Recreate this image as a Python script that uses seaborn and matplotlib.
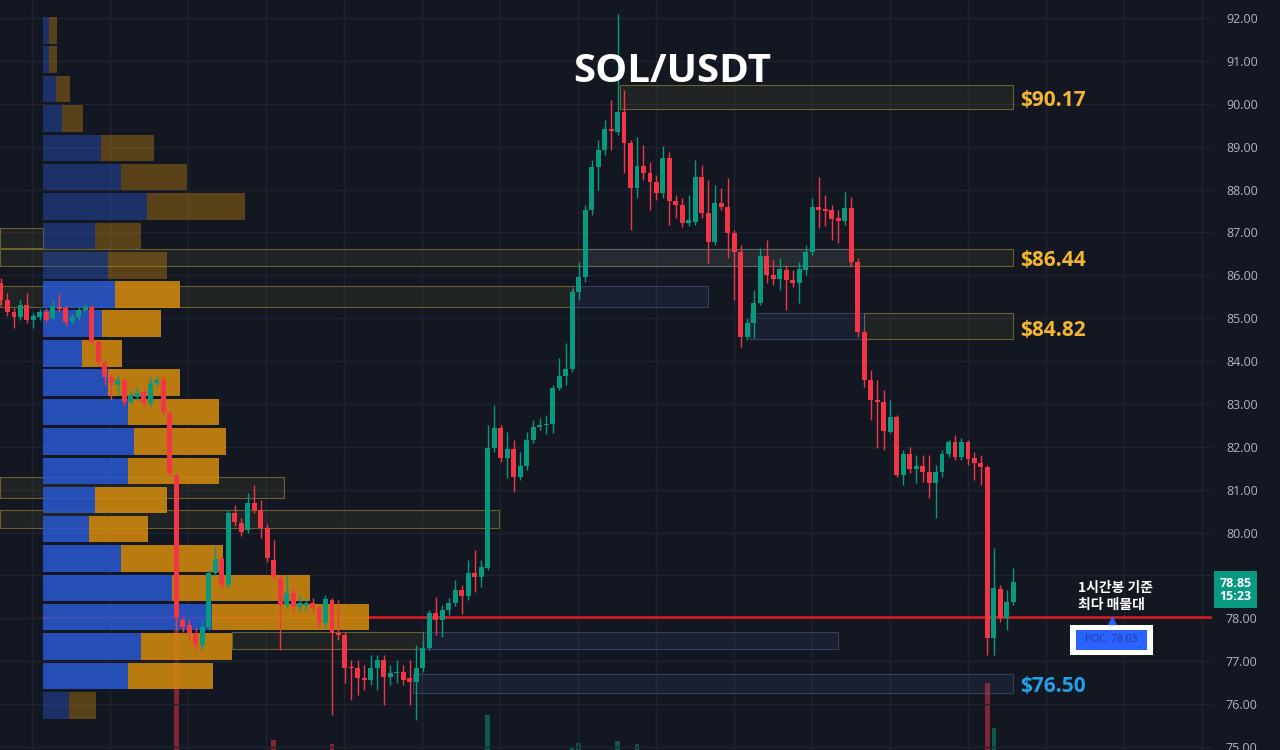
import numpy as np
import matplotlib
matplotlib.use("Agg")
import matplotlib.pyplot as plt
import matplotlib.transforms as mtransforms
from matplotlib.patches import Rectangle
import seaborn as sns

# ---------------- data ----------------
opens = [85.82, 85.42, 85.14, 85.03, 85.31, 84.96, 85.03, 85.14, 85.00, 85.26,
         85.24, 84.94, 85.03, 85.19, 85.26, 84.45, 83.96, 83.63, 83.44, 83.56,
         83.05, 83.16, 83.28, 83.03, 83.49, 83.56, 82.79, 81.34, 77.96, 77.85,
         77.66, 77.38, 77.80, 79.05, 79.38, 78.78, 80.46, 80.22, 80.06, 80.69,
         80.53, 80.11, 79.36, 78.94, 78.31, 78.59, 78.26, 78.29, 78.36, 78.24,
         77.89, 78.43, 77.66, 77.61, 76.87, 76.84, 76.61, 76.56, 76.84, 77.03,
         76.63, 76.73, 76.75, 76.61, 76.52, 76.84, 77.31, 78.12, 77.96, 78.20,
         78.36, 78.66, 78.52, 79.05, 78.96, 79.17, 81.97, 82.44, 81.74, 81.95,
         81.30, 81.55, 82.16, 82.46, 82.51, 82.53, 83.37, 83.65, 83.82, 85.61,
         85.96, 87.52, 88.53, 88.92, 89.41, 89.34, 89.81, 89.09, 88.04, 88.55,
         88.39, 88.18, 87.92, 88.74, 87.73, 87.64, 87.22, 87.24, 88.29, 87.45,
         86.78, 87.69, 87.59, 86.99, 86.54, 84.56, 84.89, 85.35, 86.45, 86.01,
         85.91, 86.12, 85.89, 85.82, 86.12, 86.54, 87.59, 87.55, 87.52, 87.34,
         87.27, 87.57, 86.31, 84.68, 83.56, 83.09, 83.05, 82.35, 82.70, 81.34,
         81.83, 81.48, 81.55, 81.41, 81.16, 81.41, 81.83, 82.11, 81.76, 82.11,
         81.74, 81.62, 81.53, 77.54, 78.69, 78.01, 78.38]
closes = [85.42, 85.14, 85.03, 85.31, 84.96, 85.05, 85.14, 84.96, 85.28, 85.21,
          84.91, 85.03, 85.19, 85.26, 84.45, 83.98, 83.63, 83.49, 83.56, 83.05,
          83.21, 83.26, 83.03, 83.49, 83.56, 82.81, 81.39, 78.01, 77.80, 77.66,
          77.38, 77.80, 79.05, 79.38, 78.78, 80.46, 80.25, 80.01, 80.69, 80.53,
          80.11, 79.41, 78.96, 78.31, 78.59, 78.26, 78.36, 78.36, 78.24, 77.89,
          78.45, 77.66, 77.61, 76.84, 76.84, 76.61, 76.56, 76.84, 77.03, 76.63,
          76.73, 76.75, 76.56, 76.52, 76.84, 77.31, 78.12, 77.96, 78.20, 78.36,
          78.66, 78.52, 79.05, 78.96, 79.19, 81.97, 82.44, 81.74, 81.95, 81.30,
          81.55, 82.16, 82.46, 82.51, 82.53, 83.37, 83.65, 83.82, 85.61, 85.96,
          87.52, 88.53, 88.92, 89.41, 89.37, 89.81, 89.09, 88.04, 88.55, 88.39,
          88.18, 87.92, 88.74, 87.73, 87.64, 87.22, 87.29, 88.29, 87.45, 86.78,
          87.69, 87.59, 86.99, 86.54, 84.56, 84.89, 85.35, 86.45, 86.01, 85.91,
          86.15, 85.89, 85.82, 86.15, 86.54, 87.59, 87.52, 87.50, 87.31, 87.27,
          87.57, 86.31, 84.68, 83.56, 83.09, 83.05, 82.37, 82.70, 81.34, 81.83,
          81.48, 81.55, 81.41, 81.16, 81.41, 81.83, 82.11, 81.76, 82.11, 81.72,
          81.62, 81.53, 77.54, 78.71, 78.01, 78.38, 78.85]
highs = [85.94, 85.59, 85.24, 85.42, 85.59, 85.12, 85.21, 85.24, 85.42, 85.59,
         85.31, 85.10, 85.26, 85.33, 85.31, 84.49, 84.03, 83.70, 83.65, 83.61,
         83.33, 83.40, 83.37, 83.65, 83.65, 83.65, 82.84, 81.39, 78.03, 77.96,
         77.77, 77.96, 79.12, 79.66, 79.45, 80.53, 80.64, 80.34, 80.92, 81.11,
         80.76, 80.20, 79.83, 79.01, 79.01, 78.71, 78.55, 78.47, 78.47, 78.31,
         78.55, 78.47, 78.43, 77.68, 77.03, 77.03, 76.91, 77.15, 77.15, 77.15,
         76.91, 77.03, 76.91, 77.03, 77.38, 77.50, 78.20, 78.50, 78.31, 78.47,
         78.89, 78.78, 79.36, 79.59, 79.36, 82.51, 82.98, 82.51, 82.35, 82.16,
         81.88, 82.35, 82.63, 82.67, 82.74, 83.44, 84.07, 84.42, 85.68, 86.31,
         87.64, 88.69, 89.15, 89.62, 90.09, 92.09, 90.32, 89.15, 89.23, 89.04,
         88.64, 88.34, 89.02, 88.88, 87.87, 87.80, 87.87, 88.69, 88.57, 88.22,
         88.11, 88.04, 88.27, 87.06, 86.71, 85.00, 85.66, 86.64, 86.82, 86.36,
         86.40, 86.24, 86.12, 86.31, 86.71, 87.80, 88.29, 87.87, 87.64, 87.52,
         87.94, 87.83, 86.40, 84.72, 83.79, 83.56, 83.33, 83.09, 82.74, 81.93,
         81.99, 81.81, 81.81, 81.81, 81.58, 81.93, 82.16, 82.28, 82.21, 82.16,
         81.88, 81.81, 81.58, 79.64, 78.78, 78.66, 79.17]
lows = [85.31, 85.05, 84.77, 84.96, 84.89, 84.77, 84.96, 84.91, 84.96, 85.14,
        84.82, 84.87, 84.96, 85.14, 84.38, 83.89, 83.44, 83.09, 83.21, 82.98,
        82.98, 83.09, 82.95, 82.95, 83.42, 82.74, 81.32, 77.73, 77.68, 77.50,
        77.26, 77.26, 77.73, 78.98, 78.71, 78.71, 80.15, 79.92, 79.99, 80.46,
        79.87, 79.31, 78.89, 77.26, 78.24, 78.15, 78.15, 78.20, 78.15, 77.77,
        77.77, 75.75, 77.50, 76.49, 76.10, 76.21, 76.33, 76.45, 76.33, 75.98,
        76.45, 76.49, 76.45, 75.98, 75.63, 76.75, 77.26, 77.61, 77.57, 78.08,
        78.29, 78.10, 78.43, 78.61, 78.73, 79.12, 81.88, 81.65, 81.27, 80.95,
        81.23, 81.46, 82.09, 82.39, 82.30, 82.32, 83.33, 83.44, 83.75, 85.42,
        85.84, 87.41, 87.99, 88.81, 88.92, 89.27, 88.39, 87.06, 87.80, 88.22,
        87.52, 87.76, 87.80, 87.17, 87.34, 87.13, 87.15, 87.17, 87.34, 86.29,
        86.71, 87.52, 86.40, 85.42, 84.33, 84.49, 84.54, 85.31, 85.82, 85.77,
        85.66, 85.19, 85.73, 85.35, 86.01, 86.47, 87.10, 87.15, 86.82, 86.75,
        87.17, 86.19, 84.56, 83.40, 82.63, 81.97, 81.93, 82.32, 81.30, 81.11,
        81.39, 81.16, 81.18, 80.81, 80.34, 81.30, 81.76, 81.69, 81.69, 81.58,
        81.23, 81.11, 77.15, 77.15, 77.92, 77.73, 78.31]

# visible volume spikes (candle index -> volume)
vol_idx = [27, 42, 51, 75, 88, 89, 95, 98, 152, 153]
vol_vals = [560, 320, 312, 370, 306, 314, 318, 312, 434, 344]

# volume profile (1h based): bin centre price, buy (blue) and sell (orange) volume
prof_price = [91.71, 91.03, 90.34, 89.66, 88.97, 88.29, 87.60, 86.92, 86.23, 85.55,
              84.87, 84.18, 83.50, 82.81, 82.13, 81.44, 80.76, 80.08, 79.39, 78.71,
              78.03, 77.34, 76.66, 75.97]
prof_buy = [6, 6, 13, 19, 58, 78, 104, 52, 65, 72, 59, 39, 65, 85, 91, 85, 52, 46,
            78, 129, 169, 98, 85, 26]
prof_sell = [8, 8, 14, 21, 53, 66, 98, 46, 59, 65, 59, 40, 72, 91, 92, 91, 72, 59,
             102, 138, 157, 91, 85, 27]
value_area = [False] * 9 + [True] * 14 + [False]
poc_price = 78.03

# zones (price range and candle-index extent)
olive_lo = [89.88, 86.22, 85.26, 86.64, 84.52, 80.81, 80.11, 77.29]
olive_hi = [90.44, 86.61, 85.75, 87.10, 85.12, 81.30, 80.53, 77.68]
olive_x0 = [95.4, -0.2, -0.2, -0.2, 133.0, -0.2, -0.2, 35.6]
olive_x1 = [155.9, 155.9, 88.1, 6.5, 155.9, 43.6, 76.7, 65.0]
blue_lo = [86.22, 85.26, 84.52, 77.29, 76.26]
blue_hi = [86.61, 85.75, 85.12, 77.68, 76.70]
blue_x0 = [90.3, 88.1, 115.4, 65.0, 63.5]
blue_x1 = [130.8, 108.9, 133.0, 129.0, 155.9]

level_prices = [90.17, 86.44, 84.82, 76.50]
level_labels = ["$90.17", "$86.44", "$84.82", "$76.50"]
level_colors = ["#f4b630", "#f4b630", "#f4b630", "#22a0e8"]

yticks = list(range(75, 93))

# ---------------- style ----------------
BG = "#131722"
GREEN = "#089981"
RED = "#f23645"
sns.set_theme(style="dark", rc={"axes.facecolor": BG, "figure.facecolor": BG,
                                "savefig.facecolor": BG, "axes.edgecolor": BG})
plt.rcParams["font.family"] = ["Open Sans", "Noto Sans CJK KR", "DejaVu Sans"]

fig = plt.figure(figsize=(12.8, 7.5), dpi=100)
ax = fig.add_axes([0, 0, 1212 / 1280, 1])
ax_vol = ax.twinx()
ax.set_zorder(2)
ax_vol.set_zorder(1)
ax.patch.set_visible(False)

n = len(opens)
x = np.arange(n)
o = np.array(opens); c = np.array(closes); h = np.array(highs); l = np.array(lows)
up = c >= o
cols = np.where(up, GREEN, RED)

XMIN, XMAX = -0.154, 186.6
YMIN, YMAX = 74.93, 92.42
ax.set_xlim(XMIN, XMAX)
ax.set_ylim(YMIN, YMAX)

# grid
ax.set_xticks(np.arange(4.78, XMAX, 12.02))
ax.set_yticks(yticks)
ax.grid(True, color="#1f2330", lw=1, zorder=0)
ax.tick_params(axis="x", length=0, labelbottom=False)
ax.yaxis.tick_right()
ax.yaxis.set_major_formatter(lambda v, p: f"{v:.2f}")
ax.tick_params(axis="y", length=0, pad=10, labelsize=9, labelcolor="#b2b5be",
               right=True, left=False, labelright=True, labelleft=False)
for s in ax.spines.values():
    s.set_visible(False)

# zones
for lo, hi, x0, x1 in zip(olive_lo, olive_hi, olive_x0, olive_x1):
    ax.add_patch(Rectangle((x0, lo), x1 - x0, hi - lo, facecolor=(0.55, 0.52, 0.18, 0.11),
                           edgecolor=(0.62, 0.57, 0.2, 0.6), lw=0.8, zorder=1))
for lo, hi, x0, x1 in zip(blue_lo, blue_hi, blue_x0, blue_x1):
    ax.add_patch(Rectangle((x0, lo), x1 - x0, hi - lo, facecolor=(0.30, 0.40, 0.62, 0.12),
                           edgecolor=(0.36, 0.44, 0.60, 0.45), lw=0.8, zorder=1.1))

# POC line
prof_start = 6.47
sns.lineplot(x=[prof_start, XMAX], y=[poc_price - 0.01, poc_price - 0.01], ax=ax,
             color="#e01b22", lw=1.8, zorder=1.5)

# volume profile
prof_tf = mtransforms.Affine2D().scale(1 / 6.49, 1).translate(prof_start, 0) + ax.transData
for pr, b, s_, va in zip(prof_price, prof_buy, prof_sell, value_area):
    a = 0.9 if va else 0.42
    ax.barh(pr, b, left=0, height=0.62, color="#2856c8", alpha=a, lw=0,
            transform=prof_tf, zorder=2)
    ax.barh(pr, s_, left=b, height=0.62, color="#cc870f", alpha=a if va else 0.38, lw=0,
            transform=prof_tf, zorder=2)

# volume bars
vcols = [GREEN if up[i] else RED for i in vol_idx]
ax_vol.bar(vol_idx, vol_vals, width=0.72, color=vcols, alpha=0.5, lw=0)
ax_vol.set_ylim(300, 1800)
ax_vol.yaxis.set_visible(False)
for s in ax_vol.spines.values():
    s.set_visible(False)

# candles
ax.vlines(x, l, h, colors=cols, lw=1, zorder=4)
body_b = np.minimum(o, c)
body_h = np.maximum(np.abs(c - o), 0.025)
ax.bar(x, body_h, bottom=body_b, width=0.76, color=cols, lw=0, zorder=5)

# level labels
for pr, lab, col in zip(level_prices, level_labels, level_colors):
    ax.text(157.0, pr - 0.1, lab, color=col, fontsize=15, fontweight="bold",
            ha="left", va="center", zorder=6, family=["Open Sans", "DejaVu Sans"])

# title
fig.text(0.525, 0.904, "SOL/USDT", ha="center", va="center", fontsize=29,
         fontweight="bold", color="white", family=["Open Sans", "DejaVu Sans"])

# POC annotation
ax.text(166.0, 78.71, "1시간봉 기준", color="white", fontsize=10, fontweight="bold",
        ha="left", va="center", family=["Noto Sans CJK KR", "DejaVu Sans"], zorder=7)
ax.text(166.0, 78.31, "최다 매물대", color="white", fontsize=10, fontweight="bold",
        ha="left", va="center", family=["Noto Sans CJK KR", "DejaVu Sans"], zorder=7)
ax.add_patch(Rectangle((164.7, 77.15), 12.8, 0.70, facecolor="white", lw=0, zorder=6))
ax.add_patch(Rectangle((165.6, 77.26), 11.0, 0.47, facecolor="#2962ff", lw=0, zorder=6.5))
ax.text(171.1, 77.50, f"POC: {poc_price:.2f}", color="#1f3c9c", fontsize=7.5,
        ha="center", va="center", zorder=7)
sns.scatterplot(x=[171.2], y=[77.95], marker="^", s=45, color="#2962ff",
                linewidth=0, ax=ax, zorder=7)

# last price tag
blend = mtransforms.blended_transform_factory(ax.transAxes, ax.transData)
ax.annotate(f"{closes[-1]:.2f}\n15:23", xy=(1.0, closes[-1]), xycoords=blend,
            xytext=(17, -5.5), textcoords="offset points", ha="center", va="center",
            fontsize=9, fontweight="bold", color="white", linespacing=1.0,
            bbox=dict(boxstyle="square,pad=0.45", fc=GREEN, ec="none"),
            annotation_clip=False, zorder=8)

ax.set_xlabel(""); ax.set_ylabel("")
fig.savefig("out.png", dpi=100, facecolor=BG)
